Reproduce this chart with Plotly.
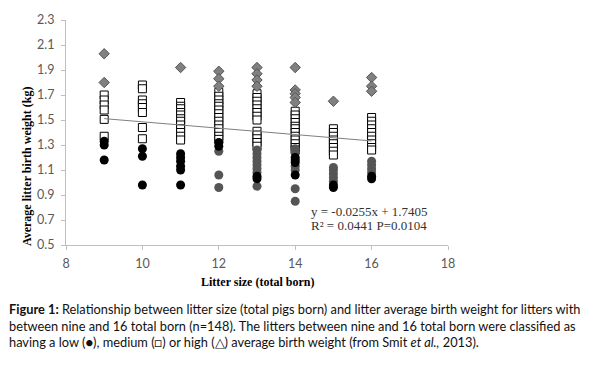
import plotly.graph_objects as go

# ---- data ----
litter_sizes = [9, 10, 11, 12, 13, 14, 15, 16]

high_x = [9, 9, 11, 12, 12, 12, 13, 13, 13, 13, 14, 14, 14, 14, 14, 15, 16, 16, 16]
high_y = [2.03, 1.80, 1.92, 1.89, 1.83, 1.77, 1.92, 1.87, 1.82, 1.77,
          1.92, 1.74, 1.71, 1.68, 1.64, 1.65, 1.84, 1.77, 1.73]

medium_x = ([9] * 6 + [10] * 8 + [11] * 12 + [12] * 14 + [13] * 13 +
            [14] * 12 + [15] * 8 + [16] * 10)
medium_y = [1.70, 1.66, 1.62, 1.58, 1.505, 1.37,
            1.78, 1.75, 1.66, 1.63, 1.60, 1.56, 1.44, 1.35,
            1.64, 1.61, 1.59, 1.56, 1.54, 1.51, 1.49, 1.46, 1.43, 1.40, 1.37, 1.34,
            1.72, 1.69, 1.66, 1.63, 1.61, 1.58, 1.55, 1.52, 1.49, 1.46, 1.43, 1.40, 1.37, 1.345,
            1.71, 1.68, 1.65, 1.62, 1.59, 1.56, 1.53, 1.50, 1.41, 1.38, 1.35, 1.32, 1.29,
            1.57, 1.54, 1.51, 1.48, 1.45, 1.43, 1.40, 1.37, 1.34, 1.31, 1.28, 1.26,
            1.43, 1.40, 1.37, 1.34, 1.31, 1.28, 1.25, 1.22,
            1.52, 1.49, 1.46, 1.43, 1.40, 1.37, 1.34, 1.31, 1.28, 1.26]

low_grey_x = [12, 12, 12, 13, 13, 13, 13, 13, 13, 13, 13,
              14, 14, 14, 14, 14, 14, 15, 15, 15, 15, 15, 16, 16, 16, 16]
low_grey_y = [1.25, 1.06, 0.96, 1.26, 1.23, 1.20, 1.17, 1.14, 1.11, 1.08, 0.97,
              1.27, 1.24, 1.13, 1.10, 0.95, 0.85, 1.12, 1.10, 1.07, 1.04, 1.01,
              1.17, 1.14, 1.11, 1.08]

low_black_x = [9, 9, 9, 10, 10, 10, 11, 11, 11, 11, 11, 11,
               12, 12, 13, 13, 14, 14, 14, 14, 15, 15, 16, 16]
low_black_y = [1.33, 1.30, 1.18, 1.27, 1.21, 0.98, 1.23, 1.20, 1.17, 1.13, 1.10, 0.98,
               1.32, 1.29, 1.05, 1.03, 1.20, 1.18, 1.16, 1.06, 0.98, 0.96, 1.05, 1.03]

slope = -0.0255
intercept = 1.7405
equation_line1 = "y = -0.0255x + 1.7405"
equation_line2 = "R² = 0.0441 P=0.0104"

x_ticks = [8, 10, 12, 14, 16, 18]
y_ticks = [0.5, 0.7, 0.9, 1.1, 1.3, 1.5, 1.7, 1.9, 2.1, 2.3]

caption_lines = [
    "<b>Figure 1:</b> Relationship between litter size (total pigs born) and litter average birth weight for litters with",
    "between nine and 16 total born (n=148). The litters between nine and 16 total born were classified as",
    "having a low (●), medium (□) or high (△) average birth weight (from Smit <i>et al.,</i> 2013).",
]

# ---- layout geometry (pixels) ----
W, H = 595, 367
L, R, T, B = 66, 147, 14, 122
pw, ph = W - L - R, H - T - B


def px(xp):
    return (xp - L) / pw


def py(yp):
    return (H - B - yp) / ph


fig = go.Figure()

trend_x = [litter_sizes[0], litter_sizes[-1]]
trend_y = [slope * v + intercept for v in trend_x]

fig.add_trace(go.Scatter(x=medium_x, y=medium_y, mode="markers",
                         marker=dict(symbol="square", size=8, color="white",
                                     line=dict(color="black", width=1)),
                         showlegend=False))
fig.add_trace(go.Scatter(x=trend_x, y=trend_y, mode="lines",
                         line=dict(color="#7f7f7f", width=1), showlegend=False))
fig.add_trace(go.Scatter(x=low_grey_x, y=low_grey_y, mode="markers",
                         marker=dict(symbol="circle", size=9, color="#555555",
                                     line=dict(width=0)),
                         showlegend=False))
fig.add_trace(go.Scatter(x=low_black_x, y=low_black_y, mode="markers",
                         marker=dict(symbol="circle", size=9, color="black",
                                     line=dict(width=0)),
                         showlegend=False))
fig.add_trace(go.Scatter(x=high_x, y=high_y, mode="markers",
                         marker=dict(symbol="diamond", size=8, color="#808080",
                                     line=dict(color="#555555", width=1)),
                         showlegend=False))

axis_font = dict(family="Lato, 'Open Sans', sans-serif", size=12.5, color="#595959")

fig.update_xaxes(range=[8, 18], tickvals=x_ticks, showgrid=False, zeroline=False,
                 showline=True, linecolor="#bfbfbf", linewidth=1,
                 ticks="outside", ticklen=4, tickcolor="#bfbfbf",
                 ticklabelstandoff=3, tickfont=axis_font)
fig.update_yaxes(range=[0.5, 2.3], tickvals=y_ticks, tickformat=".1f",
                 showgrid=False, zeroline=False,
                 showline=True, linecolor="#bfbfbf", linewidth=1,
                 ticks="outside", ticklen=4, tickcolor="#bfbfbf",
                 ticklabelstandoff=4, tickfont=axis_font)

serif = "'Liberation Serif', 'Times New Roman', serif"
annotations = [
    dict(text="<b>Average litter birth weight (kg)</b>", x=px(27), y=py(164),
         textangle=-90, font=dict(family=serif, size=12, color="black")),
    dict(text="<b>Litter size (total born)</b>", x=px(257), y=py(283),
         font=dict(family=serif, size=12, color="black")),
    dict(text=equation_line1, x=px(309), y=py(210.5), xanchor="left",
         font=dict(family=serif, size=13, color="#333333")),
    dict(text=equation_line2, x=px(309), y=py(225), xanchor="left",
         font=dict(family=serif, size=13, color="#333333")),
]
for i, line in enumerate(caption_lines):
    annotations.append(dict(text=line, x=px(7), y=py(311 + 17 * i), xanchor="left",
                            font=dict(family="Lato, 'Open Sans', sans-serif",
                                      size=12.8, color="#111111")))
for a in annotations:
    a.update(xref="paper", yref="paper", showarrow=False,
             yanchor=a.get("yanchor", "middle"), xanchor=a.get("xanchor", "center"))

fig.update_layout(width=W, height=H, margin=dict(l=L, r=R, t=T, b=B, pad=0),
                  plot_bgcolor="white", paper_bgcolor="white",
                  annotations=annotations, showlegend=False)

fig.write_html("out.html", config={"displayModeBar": False},
               post_script="document.body.style.margin='0';")
